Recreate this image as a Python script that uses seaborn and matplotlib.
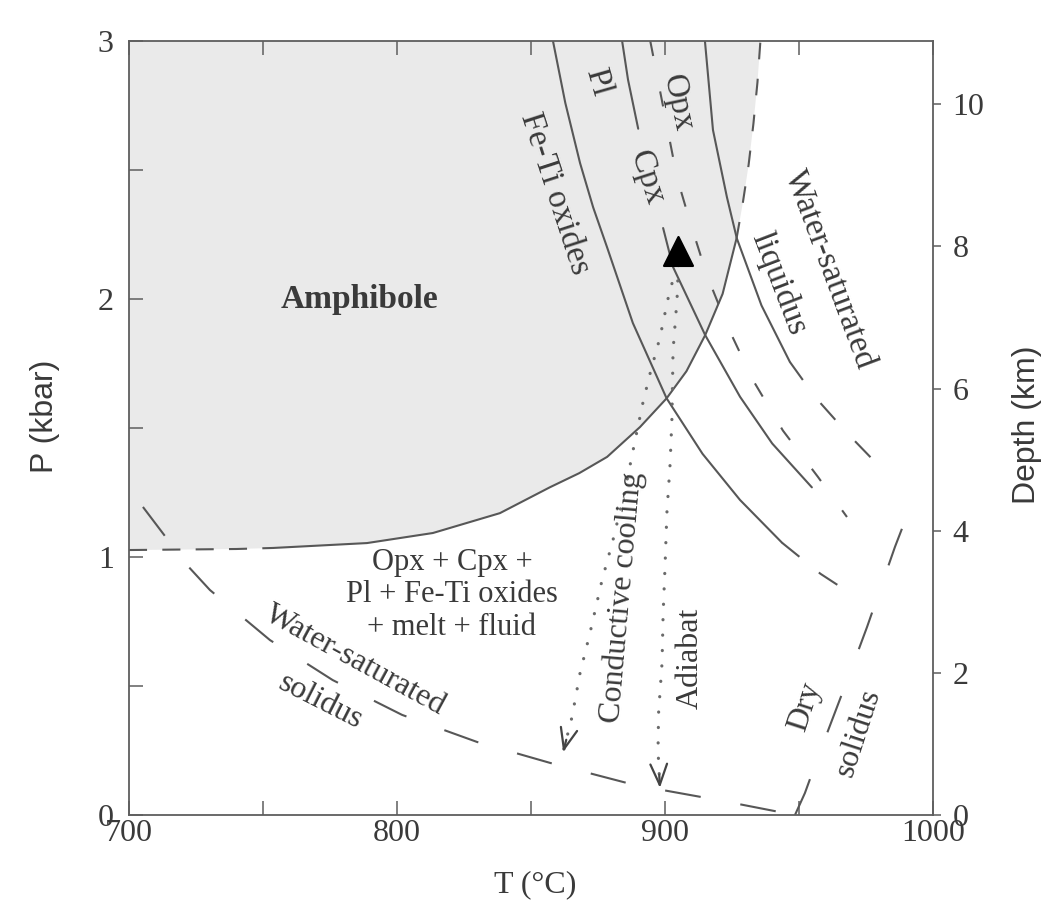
import matplotlib
matplotlib.use("Agg")
import matplotlib.pyplot as plt
from matplotlib.ticker import MultipleLocator
import seaborn as sns

# ---------------- phase-diagram data: T in °C, P in kbar ----------------
# Amphibole stability limit (left dashed part, solid part, upper dashed part)
amph_low_T = [700.0, 720.0, 740.0, 753.7]
amph_low_P = [1.027, 1.029, 1.031, 1.035]
amph_T = [753.7, 788.8, 813.4, 838.4, 857.0, 868.0, 878.4, 890.7, 900.6, 908.0, 915.0, 921.5, 926.7]
amph_P = [1.035, 1.054, 1.093, 1.170, 1.270, 1.325, 1.388, 1.504, 1.615, 1.720, 1.860, 2.020, 2.235]
amph_top_T = [926.7, 929.0, 931.2, 933.0, 934.5, 935.6]
amph_top_P = [2.235, 2.370, 2.520, 2.680, 2.840, 3.000]

# Fe-Ti oxides saturation
feti_T = [858.2, 862.8, 868.3, 873.2, 878.4, 888.0, 900.6, 914.0, 928.0, 943.7]
feti_P = [3.000, 2.760, 2.527, 2.355, 2.200, 1.907, 1.615, 1.400, 1.221, 1.055]
feti_ext_T = [943.7, 958.0, 972.0]
feti_ext_P = [1.055, 0.935, 0.840]

# Plagioclase
pl_T = [884.0, 886.2, 890.0]
pl_P = [3.000, 2.850, 2.660]

# Clinopyroxene
cpx_T = [899.3, 903.0, 915.0, 928.0, 940.0, 954.8]
cpx_P = [2.275, 2.124, 1.860, 1.621, 1.440, 1.270]

# Orthopyroxene
opx_T = [894.5, 904.5, 909.3, 915.7, 923.5, 932.8, 944.0, 957.1, 967.9]
opx_P = [3.000, 2.470, 2.300, 2.090, 1.890, 1.686, 1.490, 1.310, 1.155]

# Water-saturated liquidus
wliq_T = [914.9, 917.9, 923.1, 926.8, 936.0, 946.6]
wliq_P = [3.000, 2.655, 2.395, 2.235, 1.975, 1.756]
wliq_ext_T = [946.6, 956.0, 968.0, 981.3]
wliq_ext_P = [1.756, 1.620, 1.480, 1.337]

# Water-saturated solidus
wsol_T = [705.2, 721.6, 730.2, 752.6, 776.0, 801.9, 829.9, 857.1, 888.8, 919.8, 946.0]
wsol_P = [1.194, 0.969, 0.872, 0.678, 0.523, 0.388, 0.283, 0.202, 0.116, 0.058, 0.005]

# Dry solidus
dsol_T = [948.5, 952.2, 957.1, 964.2, 969.0, 975.4, 980.2, 985.8, 991.4]
dsol_P = [0.000, 0.085, 0.225, 0.419, 0.550, 0.729, 0.872, 1.039, 1.190]

# Ascent / cooling paths
adiabat_T = [905.0, 904.5, 903.0, 902.6, 901.9, 900.7, 900.0, 899.3, 898.9, 897.6, 897.4, 898.1]
adiabat_P = [2.130, 2.000, 1.800, 1.540, 1.360, 1.170, 0.960, 0.780, 0.590, 0.395, 0.250, 0.105]
conduct_T = [902.6, 901.1, 898.1, 894.4, 891.8, 888.8, 885.1, 880.6, 876.5, 872.0, 868.3, 865.3, 862.0]
conduct_P = [2.060, 2.000, 1.850, 1.710, 1.600, 1.450, 1.260, 1.066, 0.910, 0.705, 0.550, 0.380, 0.244]

# Starting magma
start_T = [904.9]
start_P = [2.185]

# Axes
T_TICKS = [700, 800, 900, 1000]
P_TICKS = [0, 1, 2, 3]
DEPTH_TICKS = [0, 2, 4, 6, 8, 10]
KM_PER_KBAR = 3.63

# ---------------- style ----------------
LINE = "#575757"
TXT = "#3a3a3a"
AXC = "#5e5e5e"
FILL = "#eaeaea"

sns.set_theme(style="ticks")
plt.rcParams["font.family"] = ["Liberation Serif", "DejaVu Serif"]
plt.rcParams["lines.scale_dashes"] = False
plt.rcParams["axes.edgecolor"] = AXC

fig = plt.figure(figsize=(10.56, 9.08), dpi=100, facecolor="white")
ax = fig.add_axes([129 / 1056, 93 / 908, 804 / 1056, 774 / 908])
ax.set_facecolor("white")

# amphibole field
poly_T = amph_low_T + amph_T[1:] + amph_top_T[1:] + [700.0]
poly_P = amph_low_P + amph_P[1:] + amph_top_P[1:] + [3.0]
ax.fill(poly_T, poly_P, color=FILL, lw=0, zorder=0)


def curve(T, P, dashes=None, lw=1.5, dotted=False):
    sns.lineplot(x=T, y=P, sort=False, estimator=None, ax=ax, color=LINE,
                 lw=lw, legend=False, zorder=2)
    line = ax.lines[-1]
    line.set_solid_joinstyle("round")
    if dotted:
        line.set_linestyle((0, (0.1, 11)))
        line.set_dash_capstyle("round")
        line.set_linewidth(2.3)
        line.set_color("#6a6a6a")
    elif dashes is not None:
        line.set_linestyle((0, dashes))
    return line


curve(amph_low_T, amph_low_P, dashes=(13, 11))
curve(amph_T, amph_P)
curve(amph_top_T, amph_top_P, dashes=(12, 14))

curve(feti_T, feti_P)
curve(feti_ext_T, feti_ext_P, dashes=(16, 18))
curve(pl_T, pl_P)
curve(cpx_T, cpx_P)
curve(opx_T, opx_P, dashes=(11, 26))
curve(wliq_T, wliq_P)
curve(wliq_ext_T, wliq_ext_P, dashes=(16, 21))
curve(wsol_T, wsol_P, dashes=(26, 29))
curve(dsol_T, dsol_P, dashes=(28, 36))

curve(adiabat_T, adiabat_P, dotted=True)
curve(conduct_T, conduct_P, dotted=True)

# open arrowheads at the ends of the two paths
for Ts, Ps in ((adiabat_T, adiabat_P), (conduct_T, conduct_P)):
    ax.annotate("", xy=(Ts[-1], Ps[-1]),
                xytext=(Ts[-1] + (Ts[-2] - Ts[-1]) * 0.35, Ps[-1] + (Ps[-2] - Ps[-1]) * 0.35),
                arrowprops=dict(arrowstyle="->,head_length=0.75,head_width=0.3",
                                color="#444444", lw=1.6, shrinkA=0, shrinkB=0,
                                mutation_scale=20))

sns.scatterplot(x=start_T, y=start_P, marker="^", s=430, color="black",
                edgecolor="black", ax=ax, zorder=5, legend=False)

# ---------------- labels ----------------
FS = 22
FR = 24


def label(T, P, s, rot=0, size=FS, **kw):
    ax.text(T, P, s, rotation=rot, rotation_mode="anchor", ha="center",
            va="center", fontsize=size, color=TXT, zorder=6, **kw)


label(786, 2.00, "Amphibole", size=24, fontweight="bold")
label(859, 2.41, "Fe-Ti oxides", rot=-72, size=FR)
label(875, 2.84, "Pl", rot=-74, size=FR)
label(893.3, 2.47, "Cpx", rot=-72, size=FR)
label(904.5, 2.76, "Opx", rot=-78, size=FR)
label(961.6, 2.116, "Water-saturated", rot=-69.5, size=FR)
label(942.6, 2.06, "liquidus", rot=-69, size=FR)
label(820.5, 0.853, "Opx + Cpx +\nPl + Fe-Ti oxides\n+ melt + fluid",
      multialignment="center", linespacing=1.15)
label(884, 0.845, "Conductive cooling", rot=85, size=FR - 1)
label(909.3, 0.608, "Adiabat", rot=90, size=FR - 1)
label(784.3, 0.60, "Water-saturated", rot=-28.5, size=FR - 1)
label(771.3, 0.438, "solidus", rot=-27, size=FR - 1)
label(952.2, 0.42, "Dry", rot=72, size=FR - 1)
label(972.4, 0.32, "solidus", rot=72, size=FR - 1)

# ---------------- axes ----------------
ax.set_xlim(700, 1000)
ax.set_ylim(0, 3)
ax.set_xticks(T_TICKS)
ax.set_yticks(P_TICKS)
ax.xaxis.set_minor_locator(MultipleLocator(50))
ax.yaxis.set_minor_locator(MultipleLocator(0.5))
ax.tick_params(which="both", direction="in", length=10, width=1.1, color=AXC,
               top=True, right=True, labelsize=23, labelcolor=TXT)
ax.tick_params(axis="x", which="both", pad=3)
ax.tick_params(axis="y", which="both", pad=11)
for sp in ax.spines.values():
    sp.set_linewidth(1.3)
    sp.set_color(AXC)

ax.set_xlabel("T (°C)", fontsize=23, color=TXT)
ax.xaxis.set_label_coords(0.505, -0.09)
ax.xaxis.label.set_verticalalignment("center")
ax.set_ylabel("P (kbar)", fontsize=23, color=TXT,
              family=["Liberation Sans", "DejaVu Sans"])
ax.yaxis.set_label_coords(-0.104, 0.515)
ax.yaxis.label.set_verticalalignment("center")

ax2 = ax.twinx()
ax2.set_ylim(0, 3 * KM_PER_KBAR)
ax2.set_yticks(DEPTH_TICKS)
ax2.tick_params(axis="y", direction="out", length=6, width=1.1, color=AXC,
                labelsize=23, labelcolor=TXT, pad=8)
ax2.grid(False)
for sp in ax2.spines.values():
    sp.set_visible(False)
ax2.set_ylabel("Depth (km)", fontsize=23, color=TXT,
               family=["Liberation Sans", "DejaVu Sans"], rotation=90)
ax2.yaxis.set_label_coords(1.117, 0.504)
ax2.yaxis.label.set_verticalalignment("center")

fig.savefig("out.png", dpi=100, facecolor="white")
